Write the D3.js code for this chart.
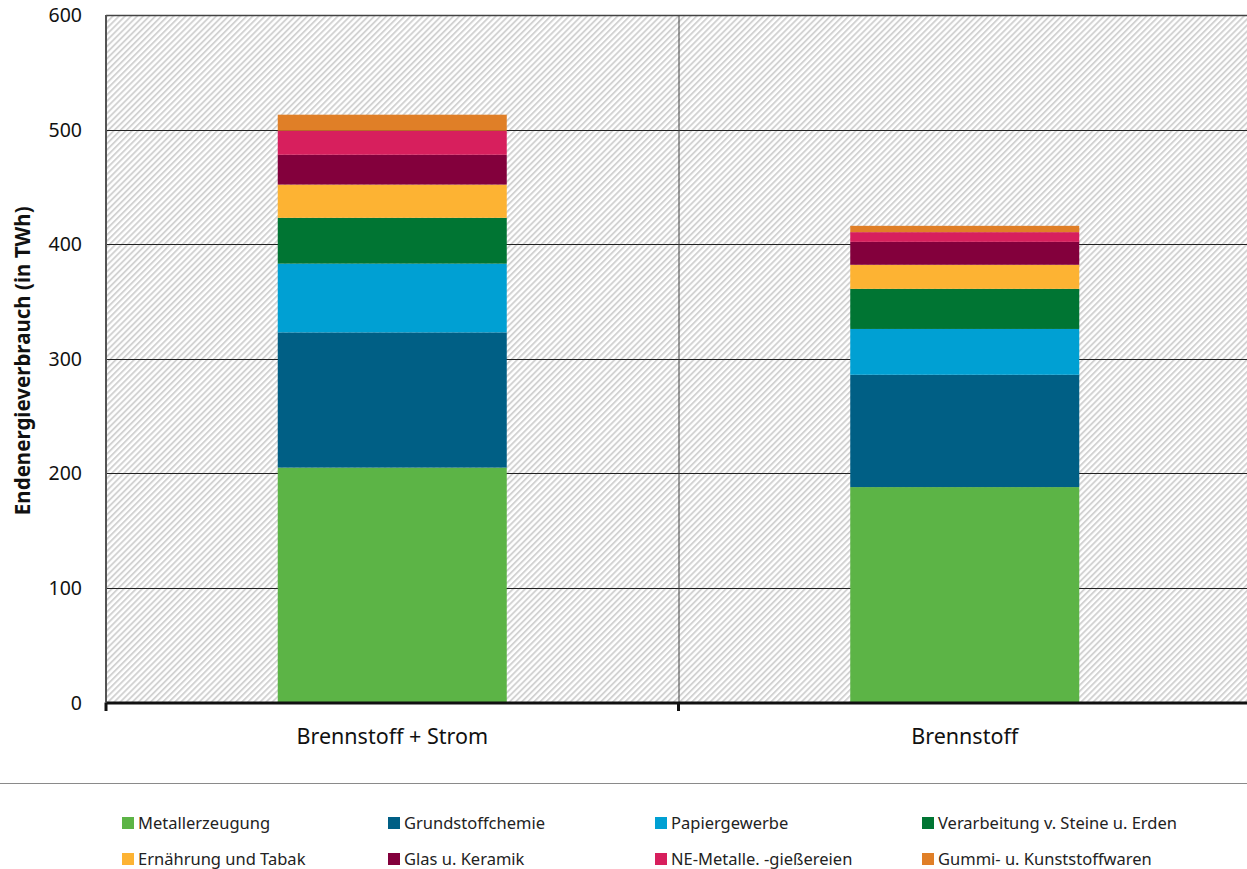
<!DOCTYPE html>
<html>
<head>
<meta charset="utf-8">
<script src="https://cdn.jsdelivr.net/npm/d3@7"></script>
<style>
  html, body { margin: 0; padding: 0; background: #fff; }
  svg { display: block; font-family: "Noto Sans", "Open Sans", sans-serif; }
</style>
</head>
<body>
<svg id="chart" width="1247" height="869"></svg>
<script>
// Endenergieverbrauch der Industriebranchen (TWh)
const categories = ["Brennstoff + Strom", "Brennstoff"];
const sectors = [
  "Metallerzeugung", "Grundstoffchemie", "Papiergewerbe", "Verarbeitung v. Steine u. Erden",
  "Ernährung und Tabak", "Glas u. Keramik", "NE-Metalle. -gießereien", "Gummi- u. Kunststoffwaren"
];
const brennstoffStrom = [205, 118, 60, 40, 29, 26, 21, 14];
const brennstoff      = [188, 98, 40, 35, 21, 20, 8.5, 5.5];
const colors = ["#5cb446", "#005f85", "#00a0d3", "#007533", "#fdb333", "#83003c", "#d71f5d", "#e07f27"];
const yTicks = [0, 100, 200, 300, 400, 500, 600];

const svg = d3.select("#chart");
const margin = { left: 106, top: 15, right: -4, bottom: 166 };
const W = 1247, H = 869;
const plotW = W - margin.left - margin.right;
const y0 = 702.5;

const rows = categories.map((c, i) => {
  const vals = i === 0 ? brennstoffStrom : brennstoff;
  const o = { category: c };
  sectors.forEach((s, j) => o[s] = vals[j]);
  return o;
});
const stacked = d3.stack().keys(sectors)(rows);

const x = d3.scaleBand().domain(categories)
  .range([margin.left, margin.left + plotW]).paddingInner(0).paddingOuter(0);
const y = d3.scaleLinear().domain([0, 600]).range([y0, margin.top]);
const color = d3.scaleOrdinal().domain(sectors).range(colors);

// diagonal hatch used as the plot background
const defs = svg.append("defs");
const pat = defs.append("pattern").attr("id", "hatch")
  .attr("patternUnits", "userSpaceOnUse").attr("width", 4.3).attr("height", 10)
  .attr("patternTransform", "rotate(45)");
pat.append("rect").attr("width", 4.3).attr("height", 10).attr("fill", "#ffffff");
pat.append("rect").attr("width", 1.9).attr("height", 10).attr("fill", "#d2d2d2");

svg.append("rect")
  .attr("x", margin.left).attr("y", margin.top)
  .attr("width", plotW).attr("height", y0 - margin.top)
  .attr("fill", "url(#hatch)");

// horizontal gridlines
svg.append("g").selectAll("line").data(yTicks.filter(d => d > 0)).join("line")
  .attr("x1", margin.left).attr("x2", margin.left + plotW)
  .attr("y1", d => Math.round(y(d)) + 0.5).attr("y2", d => Math.round(y(d)) + 0.5)
  .attr("stroke", d => d === 600 ? "#444" : "#222").attr("stroke-width", d => d === 600 ? 1.5 : 1);

// vertical separator between categories
svg.append("line")
  .attr("x1", x(categories[1]) + 0.5).attr("x2", x(categories[1]) + 0.5)
  .attr("y1", margin.top).attr("y2", y0)
  .attr("stroke", "#444").attr("stroke-width", 1);

// stacked bars
const barW = x.bandwidth() * 0.4;
svg.append("g").selectAll("g").data(stacked).join("g")
  .attr("fill", d => color(d.key))
  .selectAll("rect").data(d => d).join("rect")
  .attr("x", d => x(d.data.category) + (x.bandwidth() - barW) / 2)
  .attr("width", barW)
  .attr("y", d => y(d[1]))
  .attr("height", d => y(d[0]) - y(d[1]));

// left axis line
svg.append("line")
  .attr("x1", margin.left).attr("x2", margin.left)
  .attr("y1", margin.top).attr("y2", y0)
  .attr("stroke", "#555").attr("stroke-width", 2);

// y tick labels
svg.append("g").selectAll("text").data(yTicks).join("text")
  .attr("x", 82).attr("y", d => y(d) + 7)
  .attr("text-anchor", "end")
  .attr("font-size", 19.5).attr("fill", "#111")
  .text(d => d);

// bottom axis
const xAxis = d3.axisBottom(x).tickSize(0).tickFormat("");
svg.append("g").attr("transform", `translate(0,${y0})`).call(xAxis)
  .call(g => g.select(".domain").attr("stroke", "#111").attr("stroke-width", 3));
svg.append("g").selectAll("line").data([margin.left, x(categories[1])]).join("line")
  .attr("x1", d => d).attr("x2", d => d)
  .attr("y1", y0).attr("y2", 711)
  .attr("stroke", "#111").attr("stroke-width", 3);

// category labels
svg.append("g").selectAll("text").data(categories).join("text")
  .attr("x", d => x(d) + x.bandwidth() / 2)
  .attr("y", 744)
  .attr("text-anchor", "middle")
  .attr("font-size", 21.5).attr("fill", "#111")
  .text(d => d);

// y axis title
svg.append("text")
  .attr("transform", `translate(30,${(y0 + margin.top) / 2 + 2}) rotate(-90)`)
  .attr("text-anchor", "middle")
  .attr("font-size", 20.5).attr("font-weight", "bold").attr("fill", "#111")
  .text("Endenergieverbrauch (in TWh)");

// separator above the legend
svg.append("line")
  .attr("x1", 0).attr("x2", W).attr("y1", 783.5).attr("y2", 783.5)
  .attr("stroke", "#8a8a8a").attr("stroke-width", 1);

// legend
const legendX = [122, 388, 655, 922];
const legendY = [817, 853];
const items = svg.append("g").selectAll("g").data(sectors).join("g")
  .attr("transform", (d, i) => `translate(${legendX[i % 4]},${legendY[Math.floor(i / 4)]})`);
items.append("rect").attr("width", 12).attr("height", 12).attr("fill", d => color(d));
items.append("text").attr("x", 16).attr("y", 11.5)
  .attr("font-size", 16.5).attr("fill", "#222")
  .text(d => d);
</script>
</body>
</html>
